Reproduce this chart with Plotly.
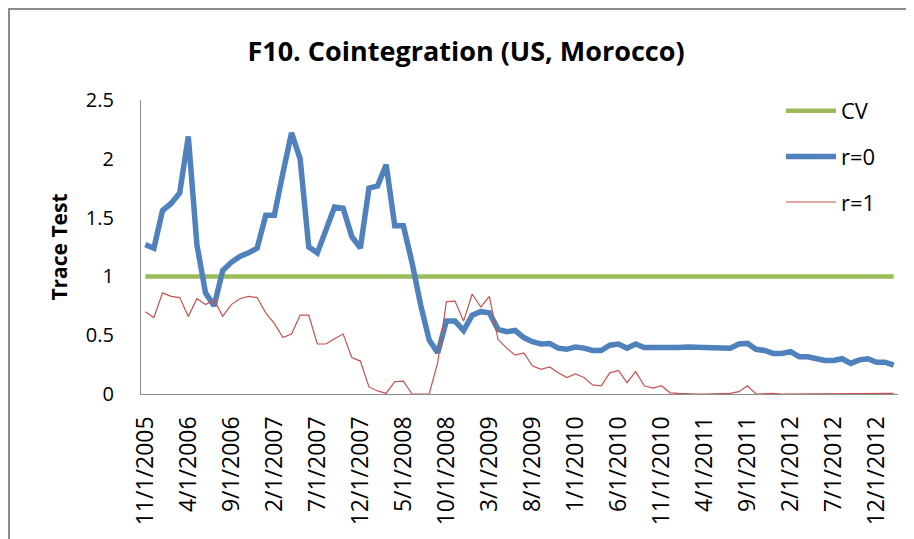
import plotly.graph_objects as go

months = [
    "11/1/2005", "12/1/2005",
    "1/1/2006", "2/1/2006", "3/1/2006", "4/1/2006", "5/1/2006", "6/1/2006",
    "7/1/2006", "8/1/2006", "9/1/2006", "10/1/2006", "11/1/2006", "12/1/2006",
    "1/1/2007", "2/1/2007", "3/1/2007", "4/1/2007", "5/1/2007", "6/1/2007",
    "7/1/2007", "8/1/2007", "9/1/2007", "10/1/2007", "11/1/2007", "12/1/2007",
    "1/1/2008", "2/1/2008", "3/1/2008", "4/1/2008", "5/1/2008", "6/1/2008",
    "7/1/2008", "8/1/2008", "9/1/2008", "10/1/2008", "11/1/2008", "12/1/2008",
    "1/1/2009", "2/1/2009", "3/1/2009", "4/1/2009", "5/1/2009", "6/1/2009",
    "7/1/2009", "8/1/2009", "9/1/2009", "10/1/2009", "11/1/2009", "12/1/2009",
    "1/1/2010", "2/1/2010", "3/1/2010", "4/1/2010", "5/1/2010", "6/1/2010",
    "7/1/2010", "8/1/2010", "9/1/2010", "10/1/2010", "11/1/2010", "12/1/2010",
    "1/1/2011", "2/1/2011", "3/1/2011", "4/1/2011", "5/1/2011", "6/1/2011",
    "7/1/2011", "8/1/2011", "9/1/2011", "10/1/2011", "11/1/2011", "12/1/2011",
    "1/1/2012", "2/1/2012", "3/1/2012", "4/1/2012", "5/1/2012", "6/1/2012",
    "7/1/2012", "8/1/2012", "9/1/2012", "10/1/2012", "11/1/2012", "12/1/2012",
    "1/1/2013", "2/1/2013",
]

tick_labels = [
    "11/1/2005", "4/1/2006", "9/1/2006", "2/1/2007", "7/1/2007", "12/1/2007",
    "5/1/2008", "10/1/2008", "3/1/2009", "8/1/2009", "1/1/2010", "6/1/2010",
    "11/1/2010", "4/1/2011", "9/1/2011", "2/1/2012", "7/1/2012", "12/1/2012",
]

cv = [1.0] * 88

r0 = [
    1.27, 1.24, 1.56, 1.62, 1.71, 2.19, 1.27, 0.86, 0.75, 1.05,
    1.12, 1.17, 1.20, 1.24, 1.52, 1.52, 1.88, 2.22, 2.00, 1.25,
    1.20, 1.39, 1.59, 1.58, 1.34, 1.24, 1.75, 1.77, 1.95, 1.43,
    1.43, 1.12, 0.76, 0.46, 0.35, 0.62, 0.62, 0.54, 0.67, 0.70,
    0.69, 0.55, 0.53, 0.54, 0.48, 0.445, 0.425, 0.43, 0.39, 0.38,
    0.40, 0.39, 0.37, 0.37, 0.415, 0.425, 0.39, 0.425, 0.395, 0.395,
    0.395, 0.385, 0.395, 0.40, 0.40, 0.39, 0.40, 0.40, 0.39, 0.425,
    0.43, 0.38, 0.37, 0.345, 0.345, 0.36, 0.317, 0.317, 0.30, 0.285,
    0.285, 0.30, 0.26, 0.29, 0.30, 0.27, 0.27, 0.245,
]

r1 = [
    0.70, 0.65, 0.86, 0.83, 0.82, 0.66, 0.81, 0.76, 0.80, 0.66,
    0.76, 0.81, 0.83, 0.82, 0.69, 0.60, 0.48, 0.51, 0.67, 0.67,
    0.425, 0.425, 0.47, 0.51, 0.31, 0.28, 0.06, 0.026, 0.005, 0.105,
    0.11, 0.0, 0.0, 0.0, 0.27, 0.785, 0.79, 0.62, 0.85, 0.74,
    0.83, 0.465, 0.39, 0.33, 0.35, 0.24, 0.21, 0.23, 0.18, 0.14,
    0.17, 0.14, 0.077, 0.07, 0.18, 0.20, 0.096, 0.19, 0.07, 0.05,
    0.07, 0.01, 0.005, 0.0, 0.0, 0.0, 0.0, 0.0, 0.005, 0.02,
    0.07, 0.0, 0.005, 0.005, 0.0, 0.0, 0.0, 0.0, 0.0, 0.0,
    0.0, 0.0, 0.0, 0.0, 0.0, 0.0, 0.005, 0.005,
]

# page body has an 8px margin; work in screen pixels and shift
OFF = 8
SW, SH = 914, 539
W, H = SW - OFF, SH - OFF
PL, PR, PT, PB = 141, 898, 100, 394  # plot area on screen
L, R, T, B = PL - OFF, SW - PR, PT - OFF, SH - PB
pw, ph = PR - PL, PB - PT


def px(x):
    return (x - PL) / pw


def py(y):
    return (PB - y) / ph


FONT = "Open Sans"

fig = go.Figure()
fig.add_trace(go.Scatter(x=months, y=cv, mode="lines", name="CV", legendgroup="a",
                         line=dict(color="#9BBB59", width=4.5)))
fig.add_trace(go.Scatter(x=months, y=r0, mode="lines", name="r=0", legendgroup="b",
                         line=dict(color="#4F81BD", width=5.5)))
fig.add_trace(go.Scatter(x=months, y=r1, mode="lines", name="r=1", legendgroup="c",
                         line=dict(color="#C8524F", width=1.2)))

fig.update_layout(
    width=W, height=H,
    margin=dict(l=L, r=R, t=T, b=B, autoexpand=False),
    paper_bgcolor="white", plot_bgcolor="white",
    font=dict(family=FONT, color="#000000"),
    title=dict(text="<b>F10. Cointegration (US, Morocco)</b>", x=(466 - OFF) / W, xanchor="center",
               y=1 - (52 - OFF) / H, yanchor="middle", font=dict(size=27, family=FONT)),
    showlegend=True,
    legend=dict(x=px(781), xanchor="left", y=py(90), yanchor="top",
                font=dict(size=22, family=FONT), tracegroupgap=14,
                bgcolor="rgba(0,0,0,0)", itemwidth=50),
    xaxis=dict(type="category", range=[-0.5, 87.5], tickmode="array",
               tickvals=tick_labels, ticktext=tick_labels, tickangle=-90,
               showgrid=False, zeroline=False, showline=True, linecolor="#8C8C8C",
               linewidth=1.3, ticks="", ticklabelstandoff=12,
               tickfont=dict(size=23, family=FONT)),
    yaxis=dict(range=[0, 2.5], tickvals=[0, 0.5, 1, 1.5, 2, 2.5],
               ticktext=["0", "0.5", "1", "1.5", "2", "2.5"],
               showgrid=False, zeroline=False, showline=True, linecolor="#8C8C8C",
               linewidth=1.3, ticks="", ticklabelstandoff=22,
               tickfont=dict(size=20, family=FONT),
               title=dict(text="<b>Trace Test</b>", standoff=12,
                          font=dict(size=21, family=FONT))),
    shapes=[
        dict(type="line", xref="paper", yref="paper", x0=px(9), x1=px(9), y0=py(9), y1=py(SH + 5),
             line=dict(color="#8C8C8C", width=2)),
        dict(type="line", xref="paper", yref="paper", x0=px(8), x1=px(SW + 5), y0=py(9), y1=py(9),
             line=dict(color="#8C8C8C", width=2)),
    ],
)

fig.write_html("out.html")
